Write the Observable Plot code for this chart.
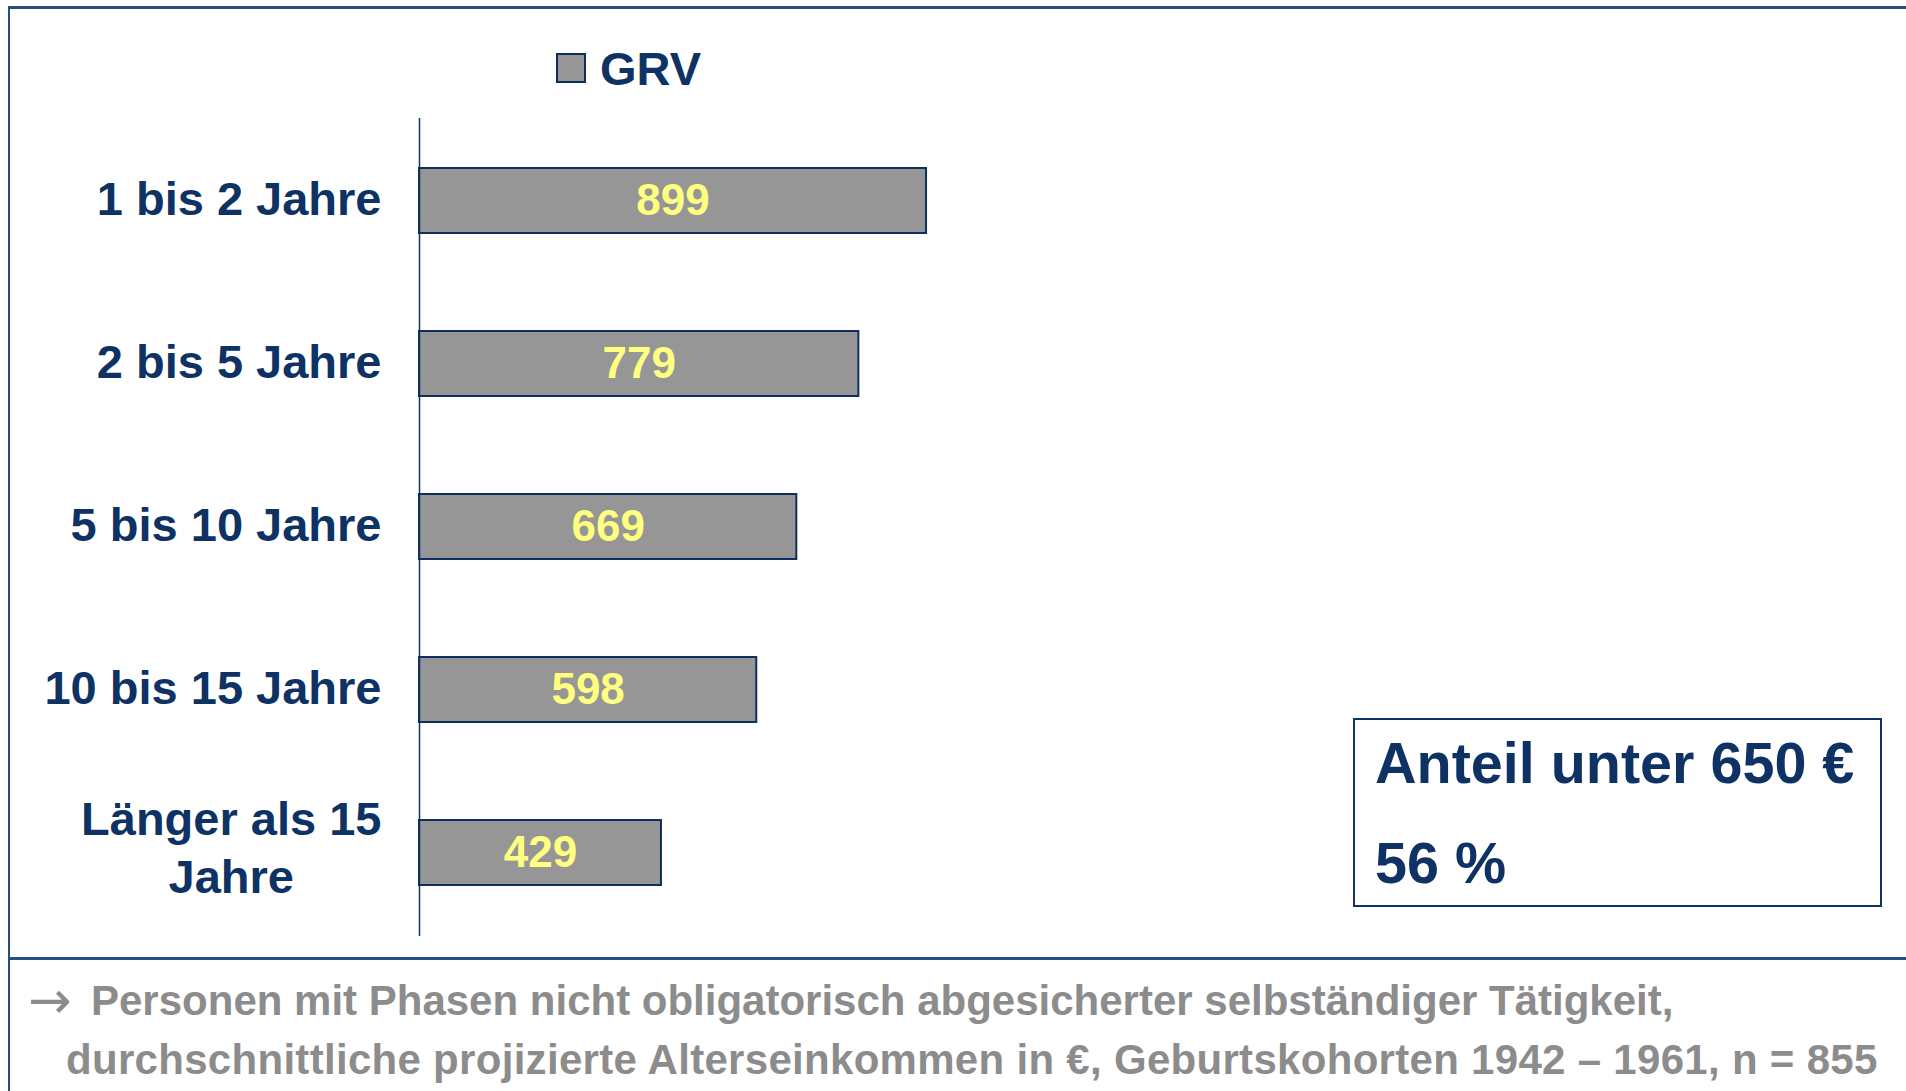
<!DOCTYPE html>
<html><head><meta charset="utf-8">
<script src="https://cdn.jsdelivr.net/npm/d3@7"></script>
<script src="https://cdn.jsdelivr.net/npm/@observablehq/plot@0.6"></script>
<style>
html,body{margin:0;padding:0;background:#fff;}
#wrap{position:relative;width:1906px;height:1091px;overflow:hidden;font-family:"Liberation Sans",Arial,sans-serif;font-weight:bold;}
.abs{position:absolute;white-space:nowrap;line-height:1;}
#chart{position:absolute;left:0;top:0;}
</style></head><body>
<div id="wrap">
  <div class="abs" style="left:8px;top:6px;width:1898px;height:3px;background:#24507f;"></div>
  <div class="abs" style="left:8px;top:6px;width:2px;height:1085px;background:#24507f;"></div>
  <div class="abs" style="left:8px;top:957px;width:1898px;height:3px;background:#24507f;"></div>
  <div id="chart"></div>
  <div id="legend"></div>
  <div class="abs" style="left:1353px;top:718px;width:529px;height:189px;box-sizing:border-box;border:2px solid #0d3263;"></div>
  <div id="note"></div>
  <div id="footer"></div>
</div>
<script>
const categories = ["1 bis 2 Jahre", "2 bis 5 Jahre", "5 bis 10 Jahre", "10 bis 15 Jahre", "Länger als 15\nJahre"];
const values = [899, 779, 669, 598, 429];
const seriesName = "GRV";
const noteLines = ["Anteil unter 650 €", "56 %"];
const footerLines = ["Personen mit Phasen nicht obligatorisch abgesicherter selbständiger Tätigkeit,",
  "durchschnittliche projizierte Alterseinkommen in €, Geburtskohorten 1942 – 1961, n = 855"];

const navy = "#0d3263";
const data = categories.map((c, i) => ({cat: c, value: values[i]}));

const chart = Plot.plot({
  width: 1906, height: 950,
  marginLeft: 419, marginRight: 923, marginTop: 118, marginBottom: 14,
  style: {fontFamily: "'Liberation Sans', Arial, sans-serif", background: "transparent", color: navy, overflow: "visible"},
  x: {domain: [0, 1000], axis: null},
  y: {domain: categories, paddingInner: 0.6, paddingOuter: 0.3, axis: null},
  marks: [
    Plot.barX(data, {y: "cat", x: "value", fill: "#969696", stroke: "#0d2f5e", strokeWidth: 2}),
    Plot.ruleX([0], {stroke: navy, strokeWidth: 1.5}),
    Plot.text(data, {y: "cat", x: d => d.value / 2, text: d => String(d.value), fill: "#ffff80", fontSize: 44, fontWeight: "bold"}),
    Plot.axisY({tickSize: 0, tickPadding: 38, fontSize: 47, fontWeight: "bold", lineHeight: 1.24, dy: -5, label: null})
  ]
});
document.getElementById("chart").appendChild(chart);

// center multi-line tick labels within their own block (right-aligned as a block)
chart.querySelectorAll("text").forEach(t => {
  const spans = t.querySelectorAll("tspan");
  if (spans.length > 1) {
    const w = t.getBBox().width;
    t.setAttribute("text-anchor", "middle");
    const tr = t.getAttribute("transform") || "";
    t.setAttribute("transform", tr + ` translate(${-w / 2},-3)`);
  }
});

// legend
const lg = document.getElementById("legend");
lg.innerHTML = `<div class="abs" style="left:556px;top:53px;width:30px;height:30px;box-sizing:border-box;background:#969696;border:2px solid #0d2f5e;"></div>
<div class="abs" style="left:600px;top:45px;font-size:47px;color:${navy};">${seriesName}</div>`;

// annotation box
const nt = document.getElementById("note");
nt.innerHTML = noteLines.map((s, i) => `<div class="abs" style="left:1375px;top:${735 + i * 100}px;font-size:57.5px;color:${navy};">${s}</div>`).join("");

// footer
const ft = document.getElementById("footer");
ft.innerHTML = `<div class="abs" style="left:28px;top:974px;font-size:52px;font-weight:normal;color:#8c8c8c;font-family:'DejaVu Sans',sans-serif;">→</div>
<div class="abs" style="left:91px;top:980px;font-size:42px;color:#8c8c8c;">${footerLines[0]}</div>
<div class="abs" style="left:66px;top:1039px;font-size:42px;letter-spacing:0.3px;color:#8c8c8c;">${footerLines[1]}</div>`;
</script>
</body></html>
